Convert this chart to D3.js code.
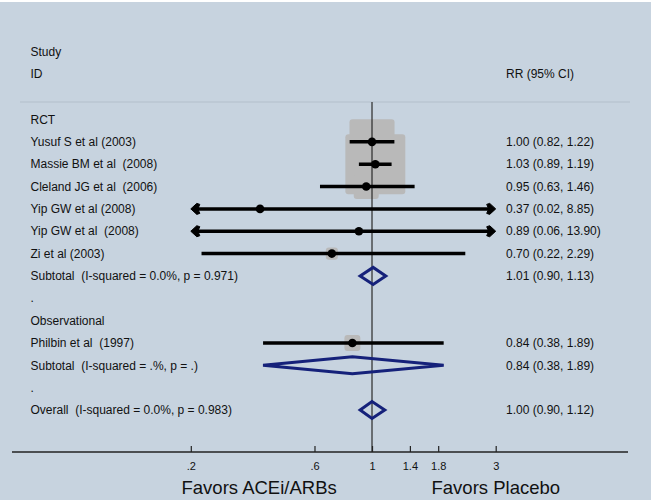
<!DOCTYPE html>
<html>
<head>
<meta charset="utf-8">
<script src="https://cdn.jsdelivr.net/npm/d3@7"></script>
<style>
  body { margin: 0; background: #ffffff; }
  svg { display: block; font-family: 'Liberation Sans', Arial, sans-serif; }
  text { white-space: pre; fill: #111; }
</style>
</head>
<body>
<svg id="chart" width="655" height="504"></svg>
<script>
WIDTH = 655;
HEIGHT = 504;

// row labels, top to bottom
const rowLabels = [
  'RCT',
  'Yusuf S et al (2003)',
  'Massie BM et al  (2008)',
  'Cleland JG et al  (2006)',
  'Yip GW et al (2008)',
  'Yip GW et al  (2008)',
  'Zi et al (2003)',
  'Subtotal  (I-squared = 0.0%, p = 0.971)',
  '.',
  'Observational',
  'Philbin et al  (1997)',
  'Subtotal  (I-squared = .%, p = .)',
  '.',
  'Overall  (I-squared = 0.0%, p = 0.983)',
];
const rowKinds = ['head', 'study', 'study', 'study', 'study', 'study', 'study', 'pooled',
  'blank', 'head', 'study', 'pooled', 'blank', 'pooled'];

// relative risk and 95% CI
const rr = [null, 1.00, 1.03, 0.95, 0.37, 0.89, 0.70, 1.01, null, null, 0.84, 0.84, null, 1.00];
const lo = [null, 0.82, 0.89, 0.63, 0.02, 0.06, 0.22, 0.90, null, null, 0.38, 0.38, null, 0.90];
const hi = [null, 1.22, 1.19, 1.46, 8.85, 13.90, 2.29, 1.13, null, null, 1.89, 1.89, null, 1.12];
// study weights (%)
const weights = [null, 30.5, 54.0, 9.4, 0.1, 0.1, 2.2, null, null, null, 3.8, null, null, null];

const tickValues = [0.2, 0.6, 1, 1.4, 1.8, 3];
const tickLabels = ['.2', '.6', '1', '1.4', '1.8', '3'];

function fmt(v) {
  return v.toFixed(2);
}

function drawForest() {
  const svg = d3.select('#chart');

  const plotTop = 102;
  const axisY = 452;

  // background panel
  svg.append('rect')
    .attr('x', 0).attr('y', 2)
    .attr('width', 651).attr('height', 498)
    .attr('fill', '#c7d3df');

  const x = d3.scaleLog().domain([0.2, 3]).range([190.8, 495.7]);
  const y = d3.scalePoint()
    .domain(d3.range(rowLabels.length))
    .range([119.5, 410]);

  // header
  svg.append('text').attr('x', 30.5).attr('y', 52).attr('dy', '0.35em')
    .attr('font-size', 12).text('Study');
  svg.append('text').attr('x', 30.5).attr('y', 74).attr('dy', '0.35em')
    .attr('font-size', 12).text('ID');
  svg.append('text').attr('x', 506).attr('y', 74).attr('dy', '0.35em')
    .attr('font-size', 12).text('RR (95% CI)');

  svg.append('line')
    .attr('x1', 20).attr('x2', 630)
    .attr('y1', plotTop).attr('y2', plotTop)
    .attr('stroke', '#b3bfcb').attr('stroke-width', 1.2);

  const rows = d3.range(rowLabels.length);

  // weight boxes
  svg.selectAll('.box')
    .data(rows.filter((i) => weights[i] != null))
    .join('rect')
    .attr('class', 'box')
    .each(function (i) {
      const s = Math.sqrt(weights[i]) * 8.16;
      d3.select(this)
        .attr('x', x(rr[i]) - s / 2)
        .attr('y', y(i) - s / 2)
        .attr('width', s)
        .attr('height', s)
        .attr('rx', Math.min(3, s / 4));
    })
    .attr('fill', '#b9b9b9');

  // line of no effect
  svg.append('line')
    .attr('x1', x(1)).attr('x2', x(1))
    .attr('y1', plotTop).attr('y2', axisY)
    .attr('stroke', '#2a2a2a').attr('stroke-width', 1.2);

  const [dMin, dMax] = x.domain();
  const studyRows = rows.filter((i) => rowKinds[i] === 'study');

  // confidence intervals
  svg.selectAll('.ci')
    .data(studyRows)
    .join('line')
    .attr('class', 'ci')
    .attr('x1', (i) => x(Math.max(lo[i], dMin)) + (lo[i] < dMin ? 5 : 0))
    .attr('x2', (i) => x(Math.min(hi[i], dMax)) - (hi[i] > dMax ? 5 : 0))
    .attr('y1', (i) => y(i))
    .attr('y2', (i) => y(i))
    .attr('stroke', '#000')
    .attr('stroke-width', 3.5);

  // arrowheads for clipped intervals
  const arrows = [];
  studyRows.forEach((i) => {
    if (lo[i] < dMin) arrows.push({ row: i, tip: x(dMin), dir: 1 });
    if (hi[i] > dMax) arrows.push({ row: i, tip: x(dMax), dir: -1 });
  });
  svg.selectAll('.arrow')
    .data(arrows)
    .join('path')
    .attr('class', 'arrow')
    .attr('d', (a) => {
      const cy = y(a.row);
      const t = a.tip;
      const d = a.dir;
      return `M${t},${cy} L${t + d * 6},${cy - 5.5} L${t + d * 9},${cy - 4.5}` +
        ` L${t + d * 7},${cy} L${t + d * 9},${cy + 4.5} L${t + d * 6},${cy + 5.5} Z`;
    })
    .attr('fill', '#000')
    .attr('stroke', '#000')
    .attr('stroke-width', 1)
    .attr('stroke-linejoin', 'round');

  // point estimates
  svg.selectAll('.pt')
    .data(studyRows)
    .join('circle')
    .attr('class', 'pt')
    .attr('cx', (i) => x(rr[i]))
    .attr('cy', (i) => y(i))
    .attr('r', 4.3)
    .attr('fill', '#000');

  // pooled diamonds
  svg.selectAll('.diamond')
    .data(rows.filter((i) => rowKinds[i] === 'pooled'))
    .join('path')
    .attr('class', 'diamond')
    .attr('d', (i) => {
      const cy = y(i);
      return `M${x(lo[i])},${cy} L${x(rr[i])},${cy - 8.5} L${x(hi[i])},${cy}` +
        ` L${x(rr[i])},${cy + 8.5} Z`;
    })
    .attr('fill', 'none')
    .attr('stroke', '#15217a')
    .attr('stroke-width', 3)
    .attr('stroke-linejoin', 'miter');

  // left labels
  svg.selectAll('.label')
    .data(rows)
    .join('text')
    .attr('class', 'label')
    .attr('x', 30.5)
    .attr('y', (i) => y(i))
    .attr('dy', '0.35em')
    .attr('font-size', 12)
    .text((i) => rowLabels[i]);

  // right column: RR (95% CI)
  svg.selectAll('.value')
    .data(rows.filter((i) => rr[i] != null))
    .join('text')
    .attr('class', 'value')
    .attr('x', 506)
    .attr('y', (i) => y(i))
    .attr('dy', '0.35em')
    .attr('font-size', 12)
    .text((i) => `${fmt(rr[i])} (${fmt(lo[i])}, ${fmt(hi[i])})`);

  // x axis
  svg.append('line')
    .attr('x1', 12).attr('x2', 628)
    .attr('y1', axisY).attr('y2', axisY)
    .attr('stroke', '#222').attr('stroke-width', 1.3);

  const axis = svg.append('g')
    .attr('transform', `translate(0, ${axisY})`)
    .call(
      d3.axisBottom(x)
        .tickValues(tickValues)
        .tickFormat((d, i) => tickLabels[i])
        .tickSizeInner(-6)
        .tickSizeOuter(0)
        .tickPadding(10)
    );
  axis.select('.domain').remove();
  axis.selectAll('.tick line').attr('stroke', '#222').attr('stroke-width', 1.2);
  axis.selectAll('.tick text')
    .attr('font-size', 11)
    .attr('font-family', "'Liberation Sans', Arial, sans-serif")
    .attr('fill', '#111');

  svg.append('text')
    .attr('x', 181.5).attr('y', 494)
    .attr('font-size', 18.5)
    .text('Favors ACEi/ARBs');
  svg.append('text')
    .attr('x', 431.5).attr('y', 494)
    .attr('font-size', 18.5)
    .text('Favors Placebo');
}

drawForest();
</script>
</body>
</html>
